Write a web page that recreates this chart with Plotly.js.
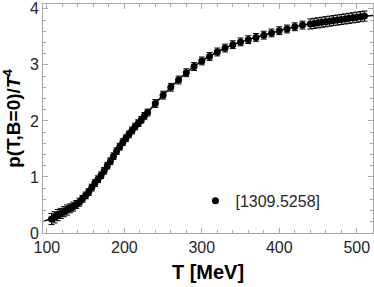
<!DOCTYPE html>
<html>
<head>
<meta charset="utf-8">
<script src="https://cdn.plot.ly/plotly-3.0.1.min.js"></script>
<style>html,body{margin:0;padding:0;background:#fff;}#chart{width:374px;height:287px;}</style>
</head>
<body>
<div id="chart"></div>
<script>
// Lattice data points (T in MeV, p/T^4)
var temperatures = [106,110,114,118,122,126,130,134,138,142,146,150,154,158,162,166,170,174,178,182,186,190,194,198,
  202,206,210,214,218,222,226,230,
  240,250,260,270,280,290,300,310,320,330,340,350,360,370,380,390,400,410,420,430,
  440,445,450,455,460,465,470,475,480,485,490,495,500,505,510];
var pressure = [0.25,0.28,0.32,0.35,0.38,0.41,0.44,0.47,0.51,0.55,0.61,0.67,0.73,0.81,0.89,0.96,1.03,1.11,1.20,1.28,1.37,1.46,1.54,1.62,
  1.69,1.76,1.83,1.90,1.96,2.02,2.09,2.15,
  2.31,2.46,2.60,2.73,2.86,2.97,3.07,3.15,3.23,3.30,3.36,3.41,3.45,3.49,3.53,3.57,3.61,3.64,3.68,3.71,
  3.73,3.74,3.75,3.76,3.77,3.78,3.79,3.80,3.81,3.82,3.83,3.84,3.85,3.86,3.87];
var pressureErr = [0.10,0.10,0.10,0.09,0.09,0.09,0.08,0.08,0.07,0.07,0.06,0.06,0.06,0.06,0.06,0.06,0.06,0.06,0.06,0.06,0.06,0.06,0.06,0.06,
  0.06,0.06,0.06,0.06,0.06,0.06,0.06,0.06,
  0.07,0.07,0.07,0.07,0.07,0.07,0.07,0.07,0.07,0.07,0.07,0.07,0.07,0.07,0.07,0.07,0.07,0.07,0.07,0.07,
  0.09,0.09,0.09,0.09,0.09,0.09,0.09,0.09,0.09,0.09,0.09,0.09,0.09,0.09,0.09];
// Fit curve drawn through the data
var fitT = [95,100,110,120,130,140,150,160,170,180,190,200,210,220,230,240,260,280,300,320,340,360,380,400,420,440,460,480,500,521];
var fitP = [0.20,0.23,0.28,0.36,0.44,0.53,0.67,0.85,1.03,1.24,1.46,1.65,1.83,1.99,2.15,2.31,2.60,2.86,3.07,3.23,3.36,3.45,3.53,3.61,3.68,3.73,3.77,3.81,3.85,3.88];
var legendLabel = "[1309.5258]";
var xTickVals = [100,200,300,400,500];
var yTickVals = [0,1,2,3,4];

var frameColor = "#a9a9a9";
var textColor = "#262626";
var font = "Liberation Sans, Arial, sans-serif";

var traces = [
  {x: fitT, y: fitP, type: "scatter", mode: "lines", line: {color: "#000", width: 1.5, shape: "spline", smoothing: 0.6}, showlegend: false, hoverinfo: "skip"},
  {x: temperatures, y: pressure, type: "scatter", mode: "markers", name: legendLabel,
   marker: {color: "#000", size: 7, symbol: "circle"},
   error_y: {type: "data", array: pressureErr, visible: true, color: "#000", thickness: 1, width: 3}}
];

var axisCommon = {
  showgrid: false, zeroline: false, showline: true, mirror: "allticks",
  linecolor: frameColor, linewidth: 1, ticks: "inside", ticklen: 5, tickcolor: frameColor, tickwidth: 1,
  tickfont: {family: font, size: 16, color: textColor}
};

var layout = {
  width: 374, height: 287,
  margin: {l: 43, r: 1, t: 4, b: 54},
  paper_bgcolor: "#fff", plot_bgcolor: "#fff",
  showlegend: true,
  legend: {x: 0.462, y: 0.14, xanchor: "left", yanchor: "middle", bgcolor: "rgba(0,0,0,0)",
    font: {family: font, size: 16, color: textColor}, itemwidth: 30, tracegroupgap: 0},
  xaxis: Object.assign({}, axisCommon, {
    range: [95, 521], tickvals: xTickVals, ticktext: xTickVals.map(String),
    minor: {dtick: 20, tick0: 0, ticks: "inside", ticklen: 3, tickcolor: frameColor, tickwidth: 1},
    title: {text: "<b>T [MeV]</b>", font: {family: font, size: 20, color: "#000"}, standoff: 9}
  }),
  yaxis: Object.assign({}, axisCommon, {
    range: [0, 4.086], tickvals: yTickVals, ticktext: yTickVals.map(String),
    minor: {dtick: 0.2, tick0: 0, ticks: "inside", ticklen: 3, tickcolor: frameColor, tickwidth: 1},
    title: {text: "<b>p(T,B=0)/<i>T</i><sup>4</sup></b>", font: {family: font, size: 19, color: "#000"}, standoff: 6}
  })
};

Plotly.newPlot("chart", traces, layout, {displayModeBar: false, staticPlot: true});
</script>
</body>
</html>
